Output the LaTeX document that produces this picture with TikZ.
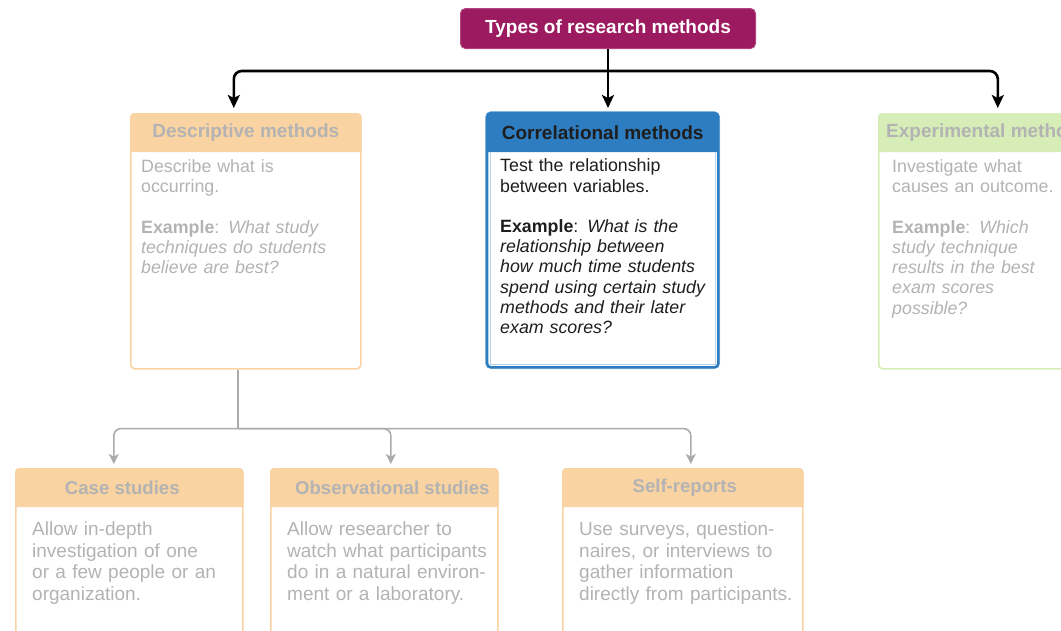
\documentclass[tikz,border=0pt]{standalone}
\usepackage{fontspec}
\setmainfont{Liberation Sans}
\usetikzlibrary{arrows.meta,calc}

\definecolor{plum}{HTML}{9C1A5F}
\definecolor{plumedge}{HTML}{B0457E}
\definecolor{corrblue}{HTML}{2E7DC0}
\definecolor{corrglow}{HTML}{B7D4EE}
\definecolor{darktext}{HTML}{1E1E1E}
\definecolor{fadeorange}{HTML}{F9D3A2}
\definecolor{fadegreen}{HTML}{D6EDB8}
\definecolor{fadetext}{HTML}{B3B3B3}
\definecolor{fadeline}{HTML}{ABABAB}

\begin{document}
\begin{tikzpicture}[x=1pt,y=-1pt,
  panel/.style={rectangle, rounded corners=4pt, inner sep=0pt, anchor=north west, fill=white},
  bodytext/.style={anchor=north west, inner sep=0pt, align=left, text width=#1,
    font=\fontsize{17.8}{20.2}\selectfont},
  lowtext/.style={anchor=north west, inner sep=0pt, align=left, text width=#1,
    font=\fontsize{19}{21.4}\selectfont, text=fadetext},
  headtext/.style={inner sep=0pt, font=\fontsize{19}{21}\selectfont\bfseries},
  lowhead/.style={inner sep=0pt, font=\fontsize{18.6}{21}\selectfont\bfseries, text=fadetext},
  mainarrow/.style={draw=black, line width=2.6pt, rounded corners=8pt,
    -{Stealth[length=13pt,width=12pt,inset=3pt]}, shorten >=5pt},
  fadearrow/.style={draw=fadeline, line width=1.6pt, rounded corners=7pt,
    -{Stealth[length=10pt,width=10pt,inset=2.5pt]}, shorten >=4pt},
  fadelink/.style={draw=fadeline, line width=1.6pt},
]
\useasboundingbox (0,0) rectangle (1061,630);
\clip (0,0) rectangle (1061,630);

% ---- title ----
\node[panel, fill=plum, draw=plumedge, line width=1pt, minimum width=295pt,
      minimum height=40pt, rounded corners=5pt] (title) at (460,8) {};
\node[headtext, text=white] (titleT) at (title.center) {Types of research methods};

% ---- descriptive methods (faded) ----
\node[panel, draw=fadeorange, line width=1.6pt, minimum width=230pt,
      minimum height=255pt] (desc) at (130,113) {};
\fill[fadeorange] ($(desc.north west)+(0,39)$) [rounded corners=4pt]
      -- (desc.north west) -- (desc.north east) [sharp corners]
      -- ($(desc.north east)+(0,39)$) -- cycle;
\node[headtext, text=fadetext] (descH) at ($(desc.north)+(0,19.5)$) {Descriptive methods};
\node[bodytext=215pt, text=fadetext] (descB) at (141,159.5)
  {Describe what is\\occurring.\\[20.2pt]\textbf{Example}: \textit{What study}\\
   \textit{techniques do students}\\\textit{believe are best?}};

% ---- correlational methods (highlighted) ----
\draw[corrglow, line width=2pt, rounded corners=5pt]
      (486,112) rectangle (719,368);
\node[panel, minimum width=231pt, minimum height=254pt] (corr) at (487,113) {};
\fill[corrblue] ($(corr.north west)+(0,39)$) [rounded corners=4pt]
      -- (corr.north west) -- (corr.north east) [sharp corners]
      -- ($(corr.north east)+(0,39)$) -- cycle;
\draw[corrglow, line width=1.2pt]
      ($(corr.north west)+(3.2,39)$) -- ($(corr.south west)+(3.2,-3.2)$)
      -- ($(corr.south east)+(-3.2,-3.2)$) -- ($(corr.north east)+(-3.2,39)$);
\draw[corrblue, line width=2.6pt, rounded corners=4pt]
      (corr.north west) rectangle (corr.south east);
\node[headtext, text=darktext] (corrH) at ($(corr.north)+(0,19.5)$) {Correlational methods};
\node[bodytext=215pt, text=darktext] (corrB) at (500,158.8)
  {Test the relationship\\between variables.\\[20.2pt]\textbf{Example}: \textit{What is the}\\
   \textit{relationship between}\\\textit{how much time students}\\
   \textit{spend using certain study}\\\textit{methods and their later}\\
   \textit{exam scores?}};

% ---- experimental methods (faded) ----
\node[panel, draw=fadegreen, line width=1.6pt, minimum width=231pt,
      minimum height=255pt] (exper) at (878,113) {};
\fill[fadegreen] ($(exper.north west)+(0,39)$) [rounded corners=4pt]
      -- (exper.north west) -- (exper.north east) [sharp corners]
      -- ($(exper.north east)+(0,39)$) -- cycle;
\node[headtext, text=fadetext, anchor=west] (experH) at ($(exper.north west)+(8,19.5)$)
      {Experimental methods};
\node[bodytext=200pt, text=fadetext] (experB) at (892,159.5)
  {Investigate what\\causes an outcome.\\[20.2pt]\textbf{Example}: \textit{Which}\\
   \textit{study technique}\\\textit{results in the best}\\\textit{exam scores}\\
   \textit{possible?}};

% ---- sub-types of descriptive methods (faded) ----
\node[panel, draw=fadeorange, line width=1.6pt, minimum width=227pt,
      minimum height=180pt] (cases) at (15,468) {};
\node[panel, draw=fadeorange, line width=1.6pt, minimum width=227pt,
      minimum height=180pt] (observ) at (270,468) {};
\node[panel, draw=fadeorange, line width=1.6pt, minimum width=240pt,
      minimum height=180pt] (selfrep) at (562,468) {};
\foreach \b in {cases,observ,selfrep}{
  \fill[fadeorange] ($(\b.north west)+(0,39)$) [rounded corners=4pt]
      -- (\b.north west) -- (\b.north east) [sharp corners]
      -- ($(\b.north east)+(0,39)$) -- cycle;
}
\node[lowhead] (casesH) at ($(cases.north)+(-7,20)$) {Case studies};
\node[lowhead] (observH) at ($(observ.north)+(8,20)$) {Observational studies};
\node[lowhead] (selfrepH) at ($(selfrep.north)+(2,20)$) {Self-reports};
\node[lowtext=215pt] (casesB) at (32,522)
  {Allow in-depth\\investigation of one\\or a few people or an\\organization.};
\node[lowtext=225pt] (observB) at (287,522)
  {Allow researcher to\\watch what participants\\do in a natural environ-\\ment or a laboratory.};
\node[lowtext=235pt] (selfrepB) at (579,522)
  {Use surveys, question-\\naires, or interviews to\\gather information\\directly from participants.};

% ---- main connectors ----
\coordinate (bus) at ($(title.south)+(0,22)$);
\draw[mainarrow] (bus) -| ($(desc.north)+(-12,0)$);
\draw[mainarrow] (bus) -| ($(exper.north)+(3.5,0)$);
\draw[mainarrow] (title.south) -- (title.south |- corr.north);

% ---- descriptive sub-type connectors ----
\coordinate (bus2) at ($(desc.south)+(-8,59)$);
\draw[fadelink] ($(desc.south)+(-8,0)$) -- (bus2);
\draw[fadearrow] (bus2) -| ($(cases.north)+(-15.5,0)$);
\draw[fadearrow] (bus2) -| ($(observ.north)+(6.5,0)$);
\draw[fadearrow] (bus2) -| ($(selfrep.north)+(8,0)$);
\end{tikzpicture}
\end{document}
